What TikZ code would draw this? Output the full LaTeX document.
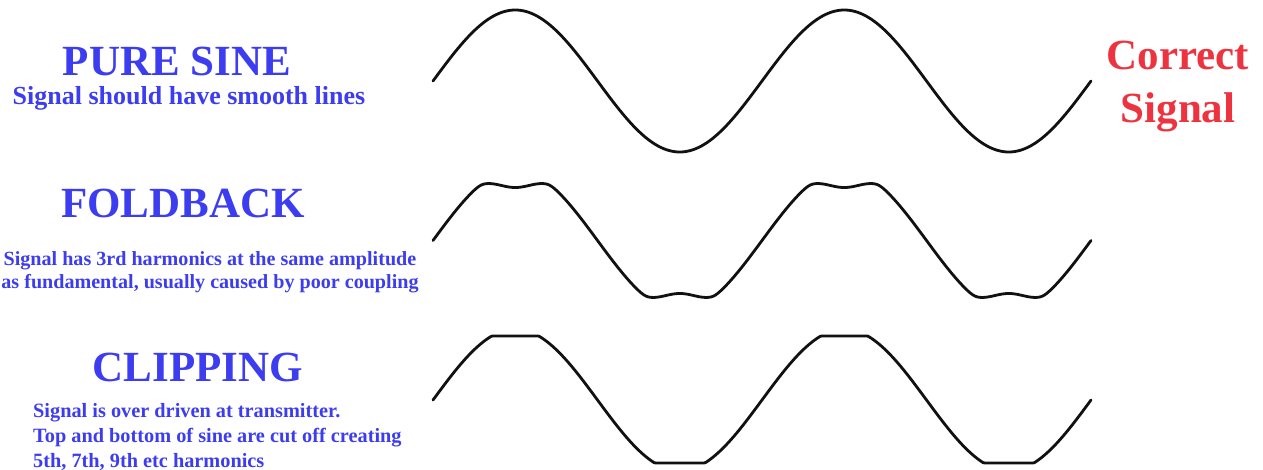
\documentclass[tikz,border=0pt]{standalone}
\usepackage{fontspec}
\setmainfont{Liberation Serif}
\usetikzlibrary{positioning}
\definecolor{Title}{HTML}{3C3CF0}
\definecolor{Alert}{HTML}{EE3340}
\definecolor{Trace}{HTML}{111111}
\tikzset{
  headtext/.style={font=\fontsize{43}{52}\selectfont\bfseries,text=Title,inner sep=0pt,anchor=base},
  subtext/.style={font=\fontsize{20.1}{23}\selectfont\bfseries,text=Title,inner sep=0pt},
  redtext/.style={font=\fontsize{43}{53}\selectfont\bfseries,text=Alert,inner sep=0pt,align=center},
  wave/.style={draw=Trace,line width=2.8pt,line join=round,line cap=round},
  declare function={
    rip(\t)=55-2*cos(6*\t-540);
    lift(\t)=71*abs(sin(\t));
    fold(\t)=min(lift(\t),rip(\t))-1.5*ln(1+exp(max(-9,-abs(lift(\t)-rip(\t))/1.5)));
    sgn(\t)=sin(\t)/max(abs(sin(\t)),0.001);
  }
}
\begin{document}
\begin{tikzpicture}[x=1pt,y=-1pt]
  \useasboundingbox (0,0) rectangle (1263,470);
  % labels on the left
  \node[headtext] (pure) at (177,76) {PURE SINE};
  \node[subtext,font=\fontsize{26}{30}\selectfont\bfseries,anchor=base] (puresub) at (189,105) {Signal should have smooth lines};
  \node[headtext] (fold) at (183,218) {FOLDBACK};
  \node[subtext,align=center,anchor=north] (foldsub) at (210,251) {Signal has 3rd harmonics at the same amplitude\\as fundamental, usually caused by poor coupling};
  \node[headtext] (clip) at (198,381) {CLIPPING};
  \node[subtext,font=\fontsize{20.3}{25}\selectfont\bfseries,align=left,anchor=north west] (clipsub) at (33,403) {Signal is over driven at transmitter.\\Top and bottom of sine are cut off creating\\5th, 7th, 9th etc harmonics};
  \node[redtext,anchor=north] (good) at (1178,41) {Correct\\Signal};
  % the three traces
  \draw[wave] plot[domain=0:720,samples=241] ({433+\x*0.91389},{81-71*sin(\x)});
  \draw[wave] plot[domain=0:720,samples=481] ({433+\x*0.91389},{240.5-sgn(\x)*fold(\x)});
  \draw[wave] plot[domain=0:720,samples=361] ({433+\x*0.91389},{400-max(-63,min(64,71*sin(\x)))});
\end{tikzpicture}
\end{document}
